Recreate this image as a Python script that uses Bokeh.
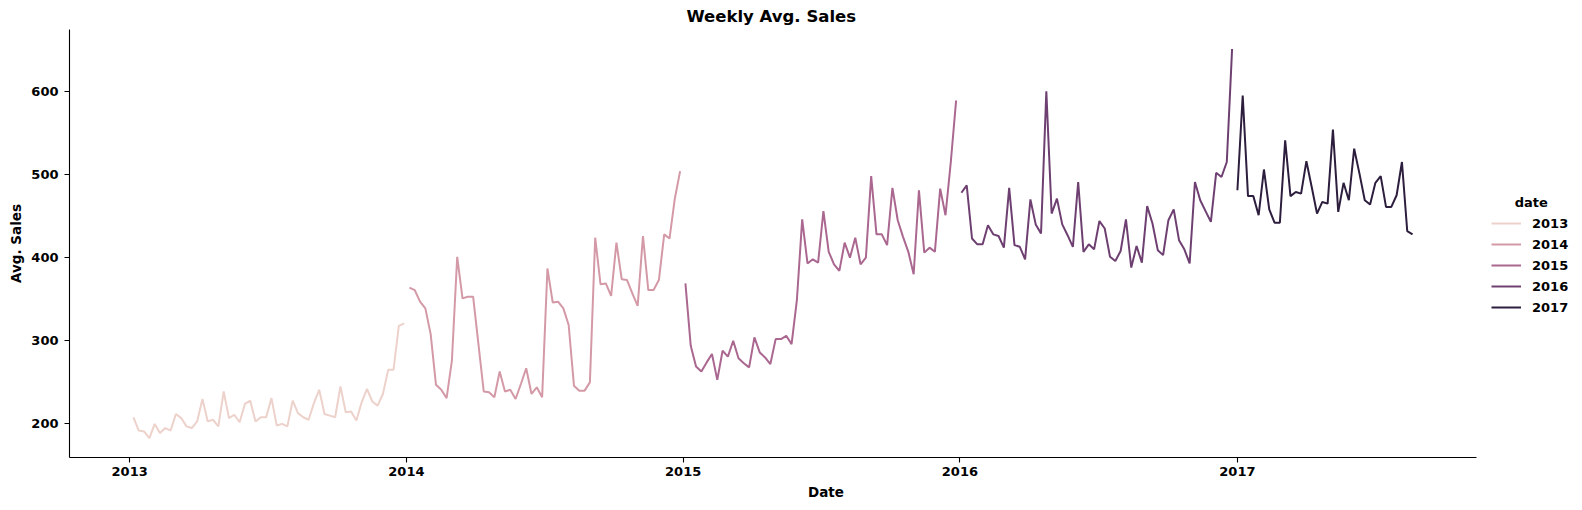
import numpy as np
import pandas as pd
from bokeh.plotting import figure
from bokeh.models import (Range1d, FixedTicker, DatetimeTickFormatter, Legend,
                          LegendItem, Label)
from bokeh.embed import file_html
from bokeh.resources import INLINE

# ---------------- data ----------------
years = [2013, 2014, 2015, 2016, 2017]
first_week = ["2013-01-06", "2014-01-05", "2015-01-04", "2016-01-03", "2017-01-01"]

sales_2013 = [208, 192, 191, 183, 200, 189, 195, 192, 212, 207,
              197, 195, 203, 230, 203, 205, 197, 239, 207, 211,
              202, 224, 228, 203, 208, 208, 231, 198, 200, 197,
              228, 213, 208, 205, 225, 241, 212, 210, 208, 245,
              214, 215, 204, 226, 242, 227, 222, 236, 265, 265,
              318, 321]
sales_2014 = [364, 361, 347, 339, 308, 247, 241, 231, 276, 401,
              351, 353, 353, 296, 239, 238, 232, 263, 239, 241,
              230, 248, 267, 236, 244, 232, 387, 346, 347, 339,
              319, 246, 240, 240, 250, 424, 368, 369, 354, 418,
              374, 373, 357, 342, 426, 361, 361, 373, 428, 423,
              471, 504]
sales_2015 = [369, 294, 269, 263, 274, 284, 253, 288, 281, 300,
              279, 273, 268, 304, 286, 280, 272, 302, 302, 306,
              296, 349, 446, 393, 398, 394, 456, 407, 392, 384,
              418, 400, 424, 392, 400, 498, 428, 428, 415, 484,
              445, 425, 407, 380, 481, 406, 412, 407, 483, 451,
              515, 589]
sales_2016 = [478, 487, 423, 416, 416, 439, 428, 426, 412, 484,
              415, 413, 398, 470, 440, 429, 600, 453, 471, 440,
              427, 413, 491, 407, 416, 410, 444, 435, 401, 396,
              408, 446, 388, 414, 394, 462, 441, 409, 403, 445,
              458, 421, 410, 393, 491, 469, 456, 443, 502, 497,
              515, 651]
sales_2017 = [481, 595, 474, 474, 451, 506, 458, 442, 442, 541,
              474, 479, 477, 516, 485, 453, 467, 465, 554, 455,
              490, 469, 531, 501, 469, 464, 490, 498, 461, 461,
              475, 515, 432, 428]
all_sales = [sales_2013, sales_2014, sales_2015, sales_2016, sales_2017]

y_ticks = [200, 300, 400, 500, 600]
x_tick_years = [2013, 2014, 2015, 2016, 2017]


# ---------------- style helpers ----------------
def cubehelix(x, start=0.0, rot=0.4, gamma=1.0, hue=0.8):
    xg = x ** gamma
    a = hue * xg * (1 - xg) / 2
    phi = 2 * np.pi * (start / 3 + rot * x)
    r = xg + a * (-0.14861 * np.cos(phi) + 1.78277 * np.sin(phi))
    g = xg + a * (-0.29227 * np.cos(phi) - 0.90649 * np.sin(phi))
    b = xg + a * (1.97294 * np.cos(phi))
    c = [int(round(255 * min(1, max(0, v)))) for v in (r, g, b)]
    return "#%02x%02x%02x" % tuple(c)


def ms(ts):
    return pd.Timestamp(ts).value / 1e6


FONT = "DejaVu Sans"
W, H = 1582, 502
LEFT, TOP, BOTTOM = 69, 29, 45
AXIS_PX = 1407                      # width of the plotted axis area
FRAME_W = W - LEFT                  # frame also hosts the legend at the right
FRAME_H = H - TOP - BOTTOM

all_dates = [pd.date_range(s, periods=len(v), freq="7D") for s, v in zip(first_week, all_sales)]
d_min = all_dates[0][0]
d_max = all_dates[-1][-1]
pad = (d_max - d_min) * 0.05
x0 = ms(d_min - pad)
x1 = ms(d_max + pad)
k = AXIS_PX / (x1 - x0)             # px per ms
x_range = Range1d(x0, x0 + FRAME_W / k)

v_min = min(min(v) for v in all_sales)
v_max = max(max(v) for v in all_sales)
ypad = (v_max - v_min) * 0.05
y0, y1 = v_min - ypad, v_max + ypad
y_range = Range1d(y0, y1)

p = figure(width=W, height=H, x_axis_type="datetime",
           x_range=x_range, y_range=y_range,
           output_backend="svg", toolbar_location=None,
           min_border_left=LEFT, min_border_right=0,
           min_border_top=TOP, min_border_bottom=BOTTOM)

p.title.text = "Weekly Avg. Sales"
p.title.align = "left"
p.title.offset = 617
p.title.text_font = FONT
p.title.text_font_style = "bold"
p.title.text_font_size = "16.5px"
p.title.text_color = "black"
p.title.standoff = 7

p.outline_line_color = None
p.xgrid.visible = False
p.ygrid.visible = False

colors = [cubehelix(0.85 - 0.7 * i / (len(years) - 1)) for i in range(len(years))]

items = []
for yr, dates, vals, col in zip(years, all_dates, all_sales, colors):
    r = p.line(x=list(dates), y=vals, line_color=col, line_width=2)
    items.append(LegendItem(label=str(yr), renderers=[r]))

# axes
p.xaxis.ticker = FixedTicker(ticks=[ms(f"{y}-01-01") for y in x_tick_years])
p.xaxis.formatter = DatetimeTickFormatter(years="%Y", months="%Y", days="%Y",
                                          hours="%Y", minutes="%Y", seconds="%Y",
                                          milliseconds="%Y", microseconds="%Y")
p.xaxis.bounds = (x0, x1)
p.yaxis.ticker = FixedTicker(ticks=y_ticks)
p.xaxis.axis_label = "Date"
p.yaxis.axis_label = "Avg. Sales"

for ax in (p.xaxis[0], p.yaxis[0]):
    ax.axis_line_color = "black"
    ax.axis_line_width = 1.1
    ax.major_tick_line_color = "black"
    ax.major_tick_line_width = 1.1
    ax.major_tick_out = 5
    ax.major_tick_in = 0
    ax.minor_tick_line_color = None
    ax.major_label_text_font = FONT
    ax.major_label_text_font_style = "bold"
    ax.major_label_text_font_size = "13px"
    ax.major_label_text_color = "black"
    ax.axis_label_text_font = FONT
    ax.axis_label_text_font_style = "bold"
    ax.axis_label_text_font_size = "13.5px"
    ax.axis_label_text_color = "black"

p.xaxis.major_label_standoff = 4
p.xaxis.axis_label_standoff = 5
p.yaxis.major_label_standoff = 6
p.yaxis.axis_label_standoff = 4

# ---------------- legend (inside the wide frame, right of the axis area) ----------------
legend = Legend(items=items, location=(1422, 141), glyph_width=30, glyph_height=18,
                label_height=18, spacing=3, label_standoff=11, padding=0,
                margin=0, border_line_color=None, background_fill_alpha=0,
                label_text_font=FONT, label_text_font_style="bold",
                label_text_font_size="13px", label_text_color="black")
p.add_layout(legend)

title_cx = 1530.8       # canvas px
title_cy = 202.3        # canvas px
p.add_layout(Label(x=x0 + (title_cx - LEFT) / k,
                   y=y0 + (TOP + FRAME_H - title_cy) * (y1 - y0) / FRAME_H,
                   text="date", text_font=FONT, text_font_style="bold",
                   text_font_size="13px", text_color="black",
                   text_align="center", text_baseline="middle"))

open("out.html", "w").write(file_html(p, INLINE))
